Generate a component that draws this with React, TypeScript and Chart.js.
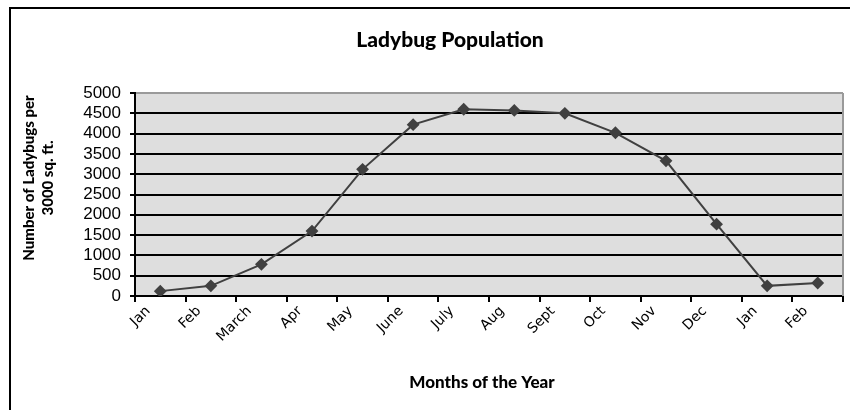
import React, { useEffect, useRef } from 'react';
import { Chart, registerables } from 'chart.js';

Chart.register(...registerables);

const months = ['Jan', 'Feb', 'March', 'Apr', 'May', 'June', 'July', 'Aug', 'Sept', 'Oct', 'Nov', 'Dec', 'Jan', 'Feb'];
const ladybugs = [120, 250, 780, 1600, 3120, 4220, 4600, 4570, 4500, 4020, 3330, 1770, 250, 320];
const yMin = 0;
const yMax = 5000;
const yStep = 500;
const chartTitle = 'Ladybug Population';
const yTitleLines = ['Number of Ladybugs per', '3000 sq. ft.'];
const xTitle = 'Months of the Year';

const decorPlugin = {
  id: 'decor',
  beforeDraw(chart: any) {
    const { ctx, chartArea } = chart;
    ctx.save();
    ctx.fillStyle = '#ffffff';
    ctx.fillRect(0, 0, chart.width, chart.height);
    ctx.fillStyle = '#dedede';
    ctx.fillRect(chartArea.left, chartArea.top, chartArea.right - chartArea.left, chartArea.bottom - chartArea.top);
    ctx.restore();
  },
  afterDraw(chart: any) {
    const { ctx, chartArea } = chart;
    ctx.save();
    // plot area right border
    ctx.strokeStyle = '#9a9a9a';
    ctx.lineWidth = 2;
    ctx.beginPath();
    ctx.moveTo(chartArea.right, chartArea.top);
    ctx.lineTo(chartArea.right, chartArea.bottom);
    ctx.stroke();
    // outer frame
    ctx.fillStyle = '#000';
    ctx.fillRect(9, 7, 2, chart.height - 7);
    ctx.fillRect(9, 7, chart.width - 9, 2);
    // titles
    ctx.fillStyle = '#000';
    ctx.textAlign = 'center';
    ctx.textBaseline = 'middle';
    ctx.font = '900 21px Lato, "Open Sans", sans-serif';
    ctx.fillText(chartTitle, 450, 40);
    ctx.font = '900 17px Lato, "Open Sans", sans-serif';
    ctx.fillText(xTitle, 482, 383);
    ctx.font = '900 15px Lato, "Open Sans", sans-serif';
    ctx.translate(0, 178);
    ctx.rotate(-Math.PI / 2);
    ctx.fillText(yTitleLines[0], 0, 29);
    ctx.fillText(yTitleLines[1], 0, 48);
    ctx.restore();
  },
};

export default function App() {
  const ref = useRef<HTMLCanvasElement | null>(null);
  useEffect(() => {
    if (!ref.current) return;
    const chart = new Chart(ref.current, {
      type: 'line',
      data: {
        labels: months,
        datasets: [
          {
            data: ladybugs,
            borderColor: '#404040',
            borderWidth: 2,
            pointStyle: 'rectRot',
            pointRadius: 5,
            pointBackgroundColor: '#404040',
            pointBorderColor: '#404040',
            tension: 0,
          },
        ],
      },
      options: {
        animation: false,
        responsive: false,
        devicePixelRatio: 1,
        layout: { padding: { top: 93, left: 0, right: 3, bottom: 0 } },
        plugins: { legend: { display: false }, tooltip: { enabled: false }, title: { display: false } },
        scales: {
          x: {
            type: 'category',
            offset: true,
            afterFit(scale: any) {
              scale.height = 114;
            },
            grid: {
              offset: true,
              drawOnChartArea: false,
              drawTicks: true,
              tickLength: 6,
              color: '#000',
              lineWidth: 2,
            },
            border: { color: '#000', width: 2 },
            ticks: {
              autoSkip: false,
              minRotation: 45,
              maxRotation: 45,
              labelOffset: -12,
              padding: 1,
              color: '#000',
              font: { family: '"DejaVu Sans", sans-serif', size: 14 },
            },
          },
          y: {
            min: yMin,
            max: yMax,
            afterFit(scale: any) {
              scale.width = 135;
            },
            grid: {
              color: (c: any) => (c.tick && c.tick.value === yMax ? '#9a9a9a' : '#000'),
              tickColor: '#000',
              lineWidth: 2,
              drawTicks: true,
              tickLength: 5,
            },
            border: { color: '#000', width: 2 },
            ticks: {
              stepSize: yStep,
              autoSkip: false,
              padding: 9,
              color: '#000',
              font: { family: '"Liberation Sans", Arial, sans-serif', size: 17 },
              callback: (v: any) => String(v),
            },
          },
        },
      },
      plugins: [decorPlugin],
    });
    return () => chart.destroy();
  }, []);
  return (
    <canvas
      ref={ref}
      width={850}
      height={410}
      style={{ position: 'absolute', left: 0, top: 0, width: 850, height: 410 }}
    />
  );
}
